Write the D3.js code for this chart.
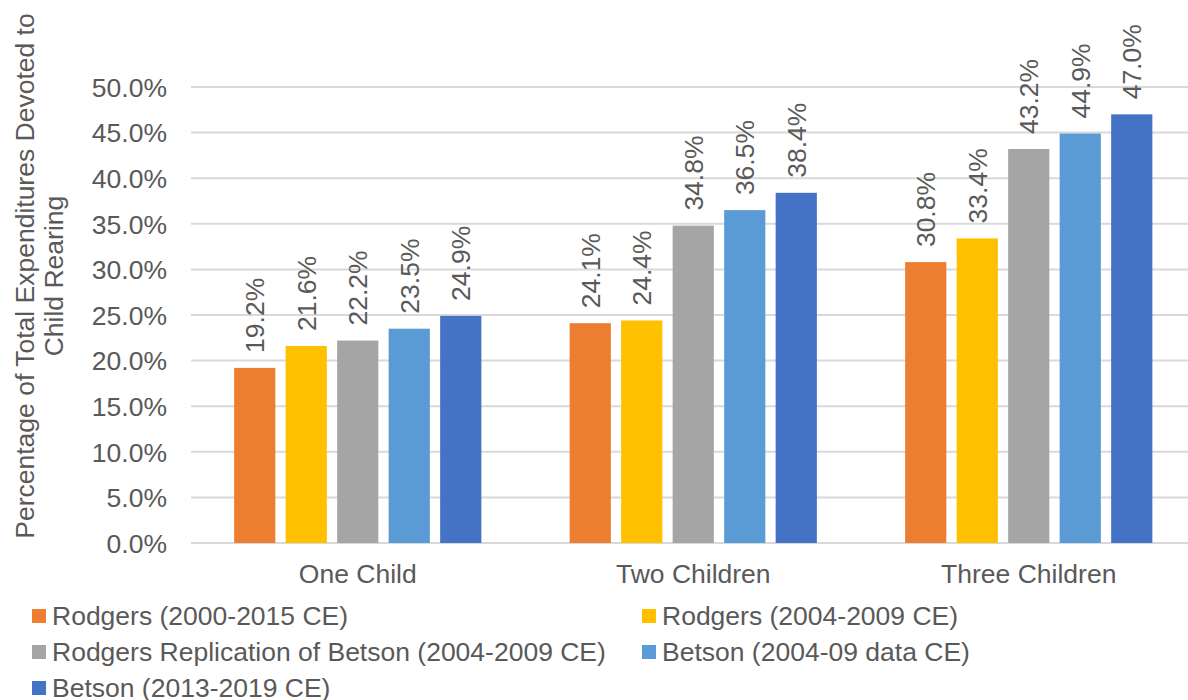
<!DOCTYPE html>
<html>
<head>
<meta charset="utf-8">
<script src="https://cdn.jsdelivr.net/npm/d3@7"></script>
<style>
  html, body { margin: 0; padding: 0; background: #fff; }
  svg { display: block; font-family: "Liberation Sans", Arial, sans-serif; }
</style>
</head>
<body>
<svg id="chart" width="1188" height="700"></svg>
<script>
// Household sizes on the category axis
const categories = ["One Child", "Two Children", "Three Children"];

// Share of total expenditures devoted to child rearing (percent)
const series = [
  "Rodgers (2000-2015 CE)",
  "Rodgers (2004-2009 CE)",
  "Rodgers Replication of Betson (2004-2009 CE)",
  "Betson (2004-09 data CE)",
  "Betson (2013-2019 CE)"
];
const rodgers2000_2015 = [19.2, 24.1, 30.8];
const rodgers2004_2009 = [21.6, 24.4, 33.4];
const replicationBetson = [22.2, 34.8, 43.2];
const betson2004_09 = [23.5, 36.5, 44.9];
const betson2013_2019 = [24.9, 38.4, 47.0];
const values = [rodgers2000_2015, rodgers2004_2009, replicationBetson, betson2004_09, betson2013_2019];

const colors = ["#ED7D31", "#FFC000", "#A5A5A5", "#5B9BD5", "#4472C4"];
const yTicks = [0, 5, 10, 15, 20, 25, 30, 35, 40, 45, 50];
const yTitle = ["Percentage of Total Expenditures Devoted to", "Child Rearing"];

const textColor = "#595959";
const fontSize = 26.5;
const svg = d3.select("#chart");

const x0 = d3.scaleBand().domain(categories).range([190, 1196.5]).padding(0);
const x1 = d3.scaleBand().domain(series).range([0, x0.bandwidth()])
  .paddingInner(0.2).paddingOuter(0.857);
const y = d3.scaleLinear().domain([0, 50]).range([543, 87]);

// Horizontal gridlines
svg.append("g").selectAll("line").data(yTicks).join("line")
  .attr("x1", x0.range()[0] + 1).attr("x2", 1188)
  .attr("y1", d => y(d)).attr("y2", d => y(d))
  .attr("stroke", "#D9D9D9").attr("stroke-width", 2);

// Y axis tick labels
const yAxis = d3.axisLeft(y).tickValues(yTicks).tickSize(0).tickPadding(0)
  .tickFormat(d => d.toFixed(1) + "%");
const gy = svg.append("g").attr("transform", "translate(167,0)").call(yAxis);
gy.select(".domain").remove();
gy.selectAll("text").attr("fill", textColor).attr("font-size", fontSize)
  .attr("font-family", "Liberation Sans, Arial, sans-serif").attr("dy", "0.35em");

// Y axis title (two lines, rotated)
const yt = svg.append("text")
  .attr("transform", "translate(0,276) rotate(-90)")
  .attr("text-anchor", "middle").attr("fill", textColor).attr("font-size", fontSize);
yt.selectAll("tspan").data(yTitle).join("tspan")
  .attr("x", 0).attr("y", (d, i) => 34 + i * 29).text(d => d);

// X axis category labels
const xAxis = d3.axisBottom(x0).tickSize(0).tickPadding(0);
const gx = svg.append("g").attr("transform", "translate(0,583)").call(xAxis);
gx.select(".domain").remove();
gx.selectAll("text").attr("fill", textColor).attr("font-size", fontSize)
  .attr("font-family", "Liberation Sans, Arial, sans-serif").attr("dy", 0);

// Bars grouped by category
const rows = categories.map((c, ci) => ({ c, items: series.map((s, si) => ({ s, si, v: values[si][ci] })) }));
const groups = svg.append("g").selectAll("g").data(rows).join("g")
  .attr("transform", d => `translate(${x0(d.c)},0)`);

groups.selectAll("rect").data(d => d.items).join("rect")
  .attr("x", d => x1(d.s)).attr("width", x1.bandwidth())
  .attr("y", d => y(d.v)).attr("height", d => y(0) - y(d.v))
  .attr("fill", d => colors[d.si]);

// Rotated value labels above bars
groups.selectAll("text.val").data(d => d.items).join("text")
  .attr("class", "val")
  .attr("transform", d => `translate(${x1(d.s) + x1.bandwidth() / 2},${y(d.v) - 15}) rotate(-90)`)
  .attr("dy", "0.36em").attr("text-anchor", "start")
  .attr("fill", textColor).attr("font-size", fontSize)
  .text(d => d.v.toFixed(1) + "%");

// Legend: two columns, three rows
const legendPos = [[32, 616], [642, 616], [32, 652], [642, 652], [32, 688]];
const lg = svg.append("g").selectAll("g").data(series).join("g")
  .attr("transform", (d, i) => `translate(${legendPos[i][0]},${legendPos[i][1]})`);
lg.append("rect").attr("x", 0).attr("y", -7).attr("width", 14).attr("height", 14)
  .attr("fill", (d, i) => colors[i]);
lg.append("text").attr("x", 20).attr("y", 0).attr("dy", "0.35em")
  .attr("fill", textColor).attr("font-size", fontSize).text(d => d);
</script>
</body>
</html>
